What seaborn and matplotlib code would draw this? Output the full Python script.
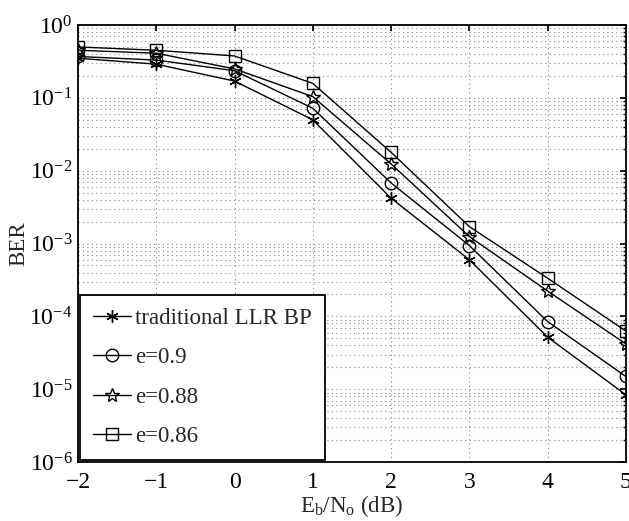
import numpy as np
import pandas as pd
import matplotlib
matplotlib.use("Agg")
import matplotlib.pyplot as plt
import seaborn as sns
from matplotlib.ticker import LogLocator, LogFormatterMathtext, NullFormatter

snr = [-2, -1, 0, 1, 2, 3, 4, 5]
ber_trad = [0.35, 0.29, 0.17, 0.050, 0.0042, 0.00060, 5.2e-5, 8.4e-6]
ber_e090 = [0.37, 0.33, 0.236, 0.072, 0.0068, 0.00094, 8.5e-5, 1.5e-5]
ber_e088 = [0.45, 0.41, 0.25, 0.104, 0.0124, 0.00125, 2.23e-4, 4.2e-5]
ber_e086 = [0.50, 0.45, 0.376, 0.158, 0.0179, 0.00171, 3.35e-4, 6.3e-5]
labels = ["traditional LLR BP", "e=0.9", "e=0.88", "e=0.86"]

sns.set_theme(style="white")
plt.rcParams["font.family"] = ["Liberation Serif", "DejaVu Serif"]
plt.rcParams["mathtext.fontset"] = "custom"
plt.rcParams["mathtext.rm"] = "Liberation Serif"
plt.rcParams["mathtext.it"] = "Liberation Serif:italic"
plt.rcParams["axes.unicode_minus"] = True

rows = []
for lab, vals in zip(labels, [ber_trad, ber_e090, ber_e088, ber_e086]):
    for x, y in zip(snr, vals):
        rows.append({"snr": x, "ber": y, "series": lab})
df = pd.DataFrame(rows)

fig = plt.figure(figsize=(6.29, 5.21), dpi=100)
ax = fig.add_axes([0.124, 0.113, 0.871, 0.839])

markers = {labels[0]: (6, 2, 0), labels[1]: "o", labels[2]: "*", labels[3]: "s"}
sizes = {labels[0]: 9, labels[1]: 9, labels[2]: 10, labels[3]: 8}
for lab in labels:
    sub = df[df["series"] == lab]
    sns.lineplot(data=sub, x="snr", y="ber", ax=ax, color="black", lw=1.0,
                 marker=markers[lab], markersize=sizes[lab], mfc="none",
                 mec="black", mew=1.0, label=lab, legend=False)

ax.set_yscale("log")
ax.set_xlim(-2, 5)
ax.set_ylim(1e-6, 1)
ax.set_xticks(snr)
ax.yaxis.set_major_locator(LogLocator(base=10, numticks=10))
ax.yaxis.set_minor_locator(LogLocator(base=10, subs=np.arange(2, 10), numticks=100))
ax.yaxis.set_major_formatter(LogFormatterMathtext())
ax.yaxis.set_minor_formatter(NullFormatter())

ax.grid(True, which="major", axis="both", color="#888888", ls=(0, (1, 3)), lw=0.8)
ax.grid(True, which="minor", axis="y", color="#888888", ls=(0, (1, 3)), lw=0.8)

for s in ax.spines.values():
    s.set_color("black")
    s.set_linewidth(1.3)
ax.tick_params(axis="both", which="both", direction="in", labelsize=17, colors="black",
               top=True, right=True, length=4)
ax.tick_params(axis="y", which="minor", length=2)
ax.tick_params(axis="y", pad=4)
ax.tick_params(axis="x", pad=7)

ax.set_xlabel(r"E$_\mathrm{b}$/N$_\mathrm{o}$ (dB)", fontsize=16.5, labelpad=0)
ax.set_ylabel("BER", fontsize=16.5, labelpad=0)

leg = ax.legend(loc="lower left", fontsize=16.5, frameon=True, fancybox=False,
                edgecolor="black", framealpha=1, borderaxespad=0.1,
                handlelength=1.65, handletextpad=0.2, labelspacing=0.8,
                borderpad=0.55)
leg.get_frame().set_linewidth(1.3)

fig.savefig("out.png", dpi=100)
